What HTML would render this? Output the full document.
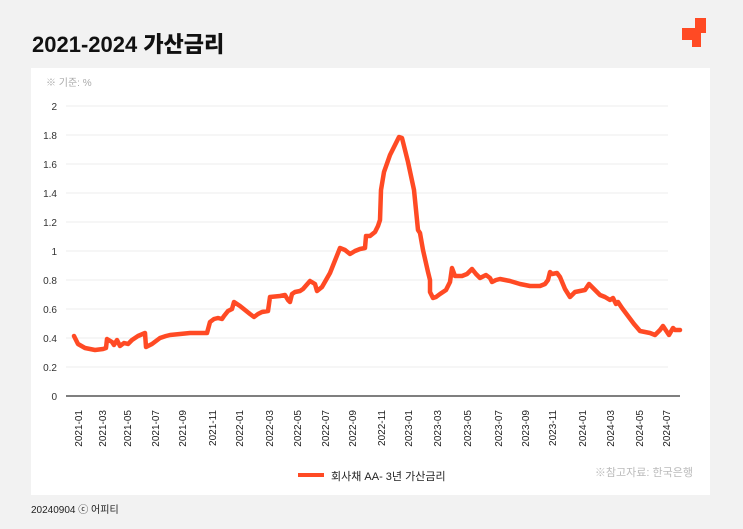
<!DOCTYPE html>
<html><head><meta charset="utf-8"><style>
body{margin:0;width:743px;height:529px;background:#f2f2f2;font-family:"Liberation Sans","Noto Sans CJK KR",sans-serif;overflow:hidden;position:relative}
.title{position:absolute;left:32px;top:27px;font-size:22px;font-weight:900;color:#111;font-family:"Liberation Sans","Noto Sans CJK KR",sans-serif}
.panel{position:absolute;left:31px;top:68px;width:679px;height:427px;background:#fff}
.foot{position:absolute;left:31px;top:501px;font-size:10px;color:#222}
</style></head><body>
<div class="title">2021-2024 가산금리</div>
<svg style="position:absolute;left:682px;top:18px" width="26" height="30"><path d="M13 0h11v15h-5v14h-9v-7h-10v-12h13z" fill="#ff4a24"/></svg>
<div class="panel"></div>
<svg style="position:absolute;left:0;top:0" width="743" height="529" font-family="Liberation Sans, Noto Sans CJK KR, sans-serif">
<text x="46" y="86" font-size="10" fill="#aaa">※ 기준: %</text>
<g stroke="#eee" stroke-width="1">
<line x1="66" x2="668" y1="106" y2="106"/><line x1="66" x2="668" y1="135" y2="135"/><line x1="66" x2="668" y1="164" y2="164"/><line x1="66" x2="668" y1="193" y2="193"/><line x1="66" x2="668" y1="222" y2="222"/><line x1="66" x2="668" y1="251" y2="251"/><line x1="66" x2="668" y1="280" y2="280"/><line x1="66" x2="668" y1="309" y2="309"/><line x1="66" x2="668" y1="338" y2="338"/><line x1="66" x2="668" y1="367" y2="367"/>
</g>
<line x1="66" x2="680" y1="396" y2="396" stroke="#333" stroke-width="1.2"/>
<g font-size="10" fill="#333" text-anchor="end">
<text x="57" y="110">2</text><text x="57" y="139">1.8</text><text x="57" y="168">1.6</text><text x="57" y="197">1.4</text><text x="57" y="226">1.2</text><text x="57" y="255">1</text><text x="57" y="284">0.8</text><text x="57" y="313">0.6</text><text x="57" y="342">0.4</text><text x="57" y="371">0.2</text><text x="57" y="400">0</text>
</g>
<g font-size="10" fill="#222" text-anchor="end">
<text transform="translate(82,410) rotate(-90)">2021-01</text>
<text transform="translate(106,410) rotate(-90)">2021-03</text>
<text transform="translate(131,410) rotate(-90)">2021-05</text>
<text transform="translate(159,410) rotate(-90)">2021-07</text>
<text transform="translate(186,410) rotate(-90)">2021-09</text>
<text transform="translate(216,410) rotate(-90)">2021-11</text>
<text transform="translate(243,410) rotate(-90)">2022-01</text>
<text transform="translate(273,410) rotate(-90)">2022-03</text>
<text transform="translate(301,410) rotate(-90)">2022-05</text>
<text transform="translate(329,410) rotate(-90)">2022-07</text>
<text transform="translate(356,410) rotate(-90)">2022-09</text>
<text transform="translate(385,410) rotate(-90)">2022-11</text>
<text transform="translate(412,410) rotate(-90)">2023-01</text>
<text transform="translate(441,410) rotate(-90)">2023-03</text>
<text transform="translate(471,410) rotate(-90)">2023-05</text>
<text transform="translate(502,410) rotate(-90)">2023-07</text>
<text transform="translate(529,410) rotate(-90)">2023-09</text>
<text transform="translate(556,410) rotate(-90)">2023-11</text>
<text transform="translate(586,410) rotate(-90)">2024-01</text>
<text transform="translate(614,410) rotate(-90)">2024-03</text>
<text transform="translate(643,410) rotate(-90)">2024-05</text>
<text transform="translate(670,410) rotate(-90)">2024-07</text>
</g>
<polyline fill="none" stroke="#ff4a24" stroke-width="4.5" stroke-linejoin="round" stroke-linecap="round" points="74,336 78,344 85,348 95,350 103,349 106,348 107,339 112,342 114,345 117,340 120,346 124,343 128,344 132,340 138,336 145,333 146,347 152,344 160,338 166,336 170,335 180,334 190,333 207,333 210,322 214,319 218,318 222,319 224,316 228,311 232,309 234,302 240,306 250,314 254,317 258,314 262,312 268,311 270,297 280,296 285,295 288,300 290,302 292,294 295,292 300,291 303,289 310,281 315,284 317,291 322,287 330,273 340,248 345,250 350,254 355,251 360,249 365,248 366,236 370,236 375,232 378,226 380,220 381,190 384,172 390,155 396,143 399,137 402,138 408,162 414,190 418,230 420,233 423,250 428,272 430,280 430,292 433,298 436,297 440,294 446,290 450,282 452,268 455,276 462,276 467,274 472,269 476,274 480,278 486,275 490,278 492,282 496,280 500,279 505,280 510,281 520,284 530,286 540,286 545,284 548,280 550,272 552,274 557,273 560,277 565,289 570,297 575,292 585,290 589,284 596,291 600,295 605,297 610,300 613,298 616,304 618,302 622,308 628,316 634,324 640,331 650,333 655,335 660,330 663,326 669,335 673,328 675,330 680,330"/>
<rect x="298" y="473" width="26" height="4" fill="#ff4a24"/>
<text x="331" y="480" font-size="11" fill="#222">회사채 AA- 3년 가산금리</text>
<text x="693" y="476" font-size="11" fill="#bbb" text-anchor="end">※참고자료: 한국은행</text>
</svg>
<div class="foot">20240904 ⓒ 어피티</div>
</body></html>
